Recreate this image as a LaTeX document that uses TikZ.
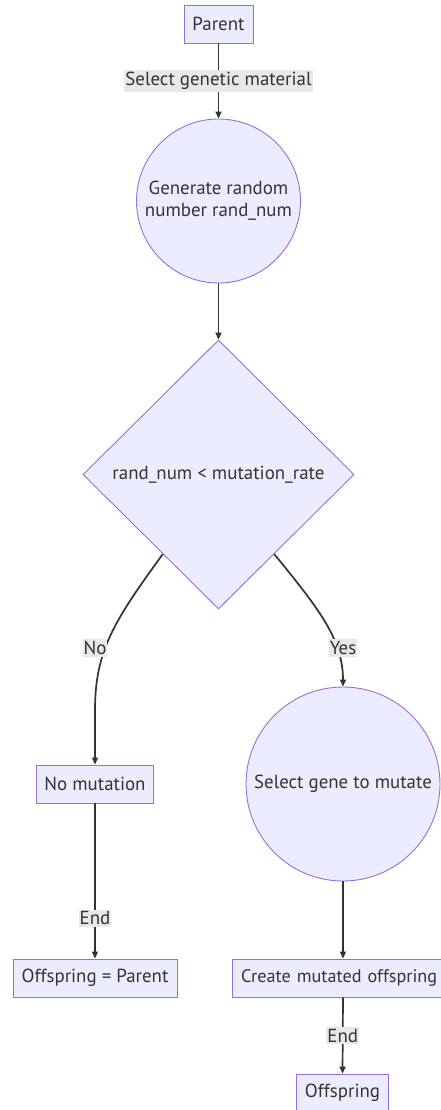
\documentclass[tikz,border=0pt]{standalone}
\usepackage{fontspec}
\setmainfont{PT Sans}
\usetikzlibrary{shapes.geometric,arrows.meta,calc}
\definecolor{nodefill}{HTML}{ECECFF}
\definecolor{nodeline}{HTML}{9370DB}
\definecolor{ink}{HTML}{333333}
\definecolor{labelbg}{HTML}{E8E8E8}
\tikzset{
  base/.style={draw=nodeline, fill=nodefill, line width=0.9pt, text=ink,
    font=\fontsize{18.9}{22}\selectfont, align=center},
  procbox/.style={base, rectangle, minimum height=38pt, inner xsep=8pt, inner ysep=0pt},
  roundstep/.style={base, circle, inner sep=0pt},
  decision/.style={base, diamond, inner sep=0pt},
  flow/.style={draw=ink, line width=1.7pt, -{Triangle[length=7pt,width=6pt]}},
  edgelabel/.style={fill=labelbg, text=ink, inner xsep=1pt, inner ysep=2pt,
    font=\fontsize{18.9}{22}\selectfont}
}
\begin{document}
\begin{tikzpicture}[x=1pt, y=-1pt]
\useasboundingbox (0,0) rectangle (441,1110);
\clip (0,0) rectangle (441,1110);
\fill[white] (0,0) rectangle (441,1110);

% nodes
\node[procbox, minimum width=69pt] (parent) at (218.5,24) {Parent};
\node[roundstep, minimum size=164pt] (gen) at (218.5,201) {Generate random\\number rand\_num};
\node[decision, minimum width=271pt, minimum height=269pt] (dec) at (218.5,474.5) {rand\_num < mutation\_rate};
\node[procbox, minimum width=117pt] (nomut) at (95,784) {No mutation};
\node[roundstep, minimum size=194pt] (sel) at (343,784) {Select gene to mutate};
\node[procbox, minimum width=164pt] (same) at (95,978) {Offspring = Parent};
\node[procbox, minimum width=222pt, font=\fontsize{18.2}{22}\selectfont,
  text width=200pt, align=left, inner xsep=0pt] (create) at (343,978)
  {\hspace*{-2pt}Create mutated offspring};
\node[procbox, minimum width=91pt] (off) at (342.5,1093) {Offspring};

% connectors
\draw[flow] (parent.south) -- node[edgelabel] {Select genetic material} (gen.north);
\draw[flow] (gen.south) -- (dec.north);
\draw[flow] (dec.235) .. controls (115,620) and (95,650) .. (95,710)
  -- (nomut.north);
\node[edgelabel] (nolbl) at (95,648) {No};
\draw[flow] (dec.-55) .. controls (320,610) and (343,640) .. (sel.north);
\node[edgelabel] (yeslbl) at (343,648) {Yes};
\draw[flow] (nomut.south) -- node[edgelabel, pos=0.74] {End} (same.north);
\draw[flow] (sel.south) -- (create.north);
\draw[flow] (create.south) -- node[edgelabel] {End} (off.north);
\end{tikzpicture}
\end{document}
